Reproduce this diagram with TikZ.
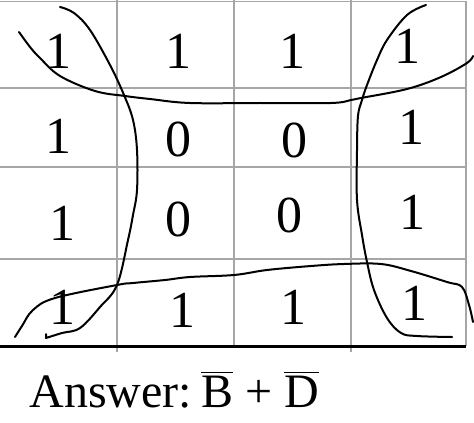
\documentclass[tikz,border=0pt]{standalone}
\usepackage{fontspec}
\setmainfont{Liberation Serif}

\begin{document}
\begin{tikzpicture}[x=0.5pt,y=-0.5pt,
    grid/.style={draw=gray!70,line width=0.6pt},
    loop/.style={line width=1pt,line cap=round,line join=round},
    bit/.style={inner sep=0pt,font=\fontsize{26}{30}\selectfont}]
\useasboundingbox (0,0) rectangle (474,422);
% grid of the map
\draw[grid] (0,1.5) -- (466,1.5) -- (466,346);
\draw[grid] (0,88) -- (466,88);
\draw[grid] (0,167) -- (466,167);
\draw[grid] (0,259) -- (466,259);
\draw[grid] (117,0) -- (117,352);
\draw[grid] (234,0) -- (234,346);
\draw[grid] (351,0) -- (351,352);
\draw[line width=1.5pt] (0,346) -- (466,346);
% cells
\node[bit] (m11) at (58,51) {1};
\node[bit] (m12) at (178,51) {1};
\node[bit] (m13) at (292,51) {1};
\node[bit] (m14) at (407,46) {1};
\node[bit] (m21) at (58,136) {1};
\node[bit] (m22) at (178,139) {0};
\node[bit] (m23) at (294,140) {0};
\node[bit] (m24) at (411,127) {1};
\node[bit] (m31) at (62,223) {1};
\node[bit] (m32) at (178,219) {0};
\node[bit] (m33) at (289,215) {0};
\node[bit] (m34) at (412,212) {1};
\node[bit] (m41) at (62,307) {1};
\node[bit] (m42) at (182,310) {1};
\node[bit] (m43) at (293,307) {1};
\node[bit] (m44) at (414,303) {1};
% hand drawn loops
\draw[loop] plot[smooth,tension=0.6] coordinates {(60,7) (74,13) (90,30) (110,65) (124,95)
  (133,120) (137,150) (137,190) (133,215) (128,240) (117,285) (100,307) (80,328) (62,333) (46,338)}
  -- (46,334);
\draw[loop] plot[smooth,tension=0.6] coordinates {(19,32) (30,47) (40,58) (60,76) (95,91)
  (125,96) (150,99) (190,103) (260,103) (331,103) (351,100) (361,98) (407,89) (441,77) (467,63) (473,56)};
\draw[loop] plot[smooth,tension=0.6] coordinates {(426,5) (407,15) (387,40) (377,60) (367,85)
  (362,100) (358,116) (357,150) (357,200) (362,235) (367,262) (374,290) (387,318) (401,333) (417,336) (452,337)};
\draw[loop] plot[smooth,tension=0.6] coordinates {(15,337) (22,326) (33,310) (55,298) (117,285)
  (133,283) (165,280) (190,277) (234,275) (267,270) (311,266) (344,264) (381,264) (411,271)
  (447,282) (462,287) (469,305) (473,322)};
% answer
\node[anchor=base west,inner sep=0pt,font=\fontsize{24}{28}\selectfont] (answer) at (29,407)
  {Answer:\hspace{-3.5pt} $\overline{\mbox{B}}$ + $\overline{\mbox{D}}$};
\end{tikzpicture}
\end{document}
